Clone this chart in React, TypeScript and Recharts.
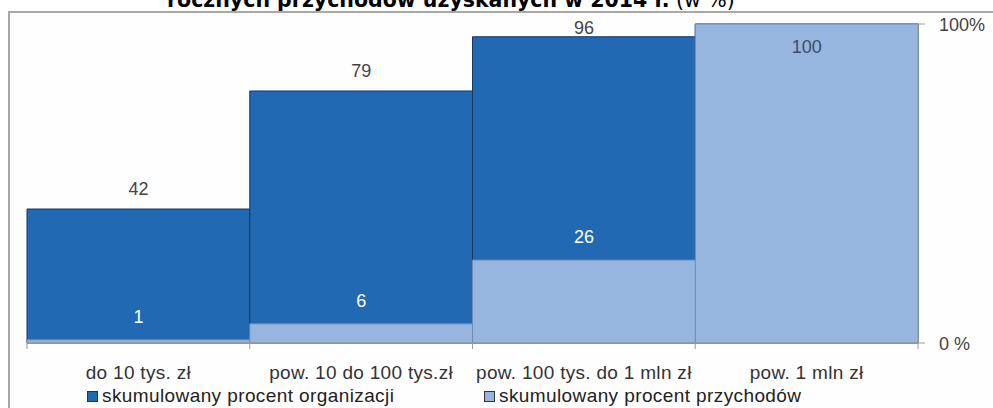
import { BarChart, Bar, XAxis, YAxis } from "recharts";

const categories = ["do 10 tys. zł", "pow. 10 do 100 tys.zł", "pow. 100 tys. do 1 mln zł", "pow. 1 mln zł"];
const orgPercent = [42, 79, 96, 100];
const revenuePercent = [1, 6, 26, 100];
const yTicks = [0, 100];
const yTickLabels = ["0 %", "100%"];

const seriesNames = ["skumulowany procent organizacji", "skumulowany procent przychodów"];
const DARK = "#2169b3";
const LIGHT = "#96b6e0";

const data = categories.map((cat, i) => ({ cat, org: orgPercent[i], rev: revenuePercent[i] }));

const W = 993;
const H = 408;
const M_LEFT = 27;
const Y_W = 75;
const BAND = (W - M_LEFT - Y_W) / categories.length;
const FONT = "'Liberation Sans', Arial, sans-serif";

function XTick(props: any) {
  const { x, y, payload, index } = props;
  const left = x - BAND / 2;
  const right = x + BAND / 2;
  return (
    <g>
      <line x1={left} y1={y} x2={left} y2={y + 6} stroke="#9a9a9a" />
      {index === categories.length - 1 && <line x1={right} y1={y} x2={right} y2={y + 6} stroke="#9a9a9a" />}
      <text
        x={x}
        y={y + 29}
        textAnchor="middle"
        dominantBaseline="central"
        fontSize={19}
        letterSpacing={0.3}
        fill="#333"
        fontFamily={FONT}
      >
        {payload.value}
      </text>
    </g>
  );
}

function YTick(props: any) {
  const { x, y, payload } = props;
  const idx = yTicks.indexOf(payload.value);
  return (
    <text x={x} y={y + 1} textAnchor="start" dominantBaseline="central" fontSize={18} fill="#444" fontFamily={FONT}>
      {yTickLabels[idx]}
    </text>
  );
}

function orgLabel(props: any) {
  const { x, y, width, value } = props;
  if (value >= 100) return null;
  const cy = Math.max(y - 20, 28);
  return (
    <text x={x + width / 2} y={cy} textAnchor="middle" dominantBaseline="central" fontSize={18} fill="#444" fontFamily={FONT}>
      {value}
    </text>
  );
}

function revLabel(props: any) {
  const { x, y, width, value } = props;
  const full = value >= 100;
  return (
    <text
      x={x + width / 2}
      y={full ? y + 23 : y - 23}
      textAnchor="middle"
      dominantBaseline="central"
      fontSize={18}
      fill={full ? "#3c4d66" : "#ffffff"}
      fontFamily={FONT}
    >
      {value}
    </text>
  );
}

export default function App() {
  return (
    <div style={{ position: "absolute", left: 0, top: 0, width: W, height: H, overflow: "hidden", background: "#fff" }}>
      <svg width={W} height={14} style={{ position: "absolute", left: 0, top: 0 }}>
        <text x={167} y={7} fontFamily="'DejaVu Sans', Verdana, sans-serif" fontSize={20.5} fill="#000">
          <tspan fontWeight="bold">rocznych przychodów uzyskanych w 2014 r.</tspan>
          <tspan> (w %)</tspan>
        </text>
      </svg>
      <div
        style={{
          position: "absolute",
          left: 8,
          top: 11,
          width: 1000,
          height: 500,
          border: "2px solid #a8a8a8",
          background: "#fefefe",
        }}
      />
      <div style={{ position: "absolute", left: 0, top: 0 }}>
        <BarChart
          width={W}
          height={H}
          data={data}
          margin={{ top: 24, right: 0, bottom: 0, left: M_LEFT }}
          barCategoryGap={0}
          barGap={0}
        >
          <XAxis
            xAxisId="main"
            dataKey="cat"
            height={65}
            tickLine={false}
            tickSize={0}
            tickMargin={0}
            axisLine={{ stroke: "#9a9a9a" }}
            tick={<XTick />}
            interval={0}
          />
          <XAxis xAxisId="over" dataKey="cat" hide />
          <YAxis
            orientation="right"
            width={Y_W}
            domain={[0, 100]}
            ticks={yTicks}
            tickSize={7}
            tickMargin={14}
            axisLine={{ stroke: "#9a9a9a" }}
            tickLine={{ stroke: "#9a9a9a" }}
            tick={<YTick />}
          />
          <Bar
            xAxisId="main"
            dataKey="org"
            name={seriesNames[0]}
            fill={DARK}
            stroke="#1b3558"
            strokeWidth={1}
            isAnimationActive={false}
            label={orgLabel}
          />
          <Bar
            xAxisId="over"
            dataKey="rev"
            name={seriesNames[1]}
            fill={LIGHT}
            stroke="#6e8bb4"
            strokeWidth={1}
            isAnimationActive={false}
            label={revLabel}
          />
        </BarChart>
      </div>
      {[DARK, LIGHT].map((c, i) => (
        <div
          key={seriesNames[i]}
          style={{
            position: "absolute",
            left: i === 0 ? 87 : 484,
            top: 385,
            display: "flex",
            alignItems: "center",
            fontFamily: FONT,
            fontSize: 19,
            letterSpacing: 0.4,
            color: "#222",
            whiteSpace: "nowrap",
          }}
        >
          <span style={{ width: 9, height: 9, background: c, border: "1px solid #333", marginRight: 4, display: "inline-block" }} />
          {seriesNames[i]}
        </div>
      ))}
    </div>
  );
}
